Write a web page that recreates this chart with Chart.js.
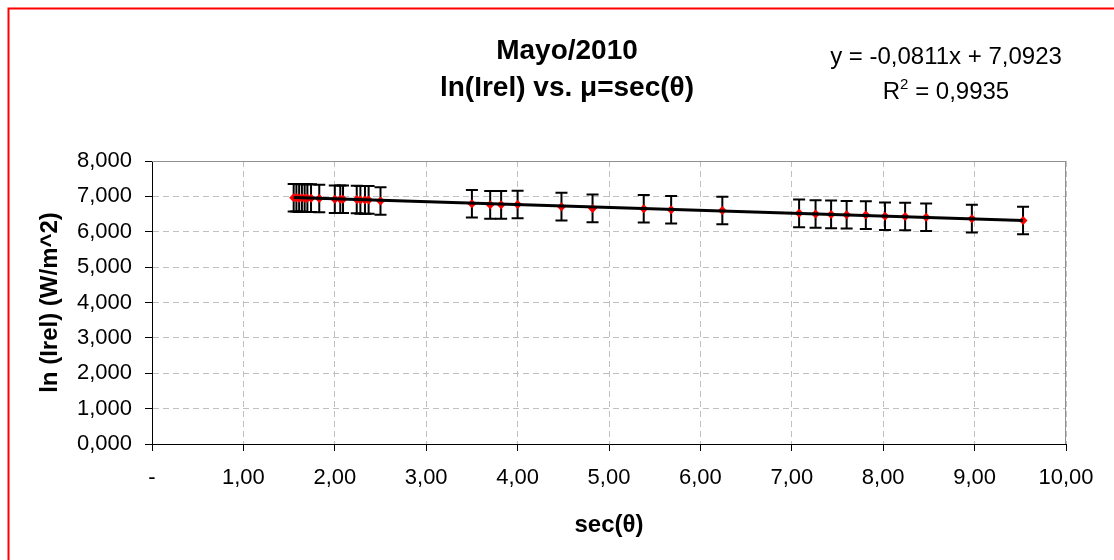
<!DOCTYPE html>
<html>
<head>
<meta charset="utf-8">
<script src="https://cdn.jsdelivr.net/npm/chart.js@4.4.0/dist/chart.umd.min.js"></script>
<style>
  html, body { margin: 0; padding: 0; background: #fff; }
  canvas { display: block; }
</style>
</head>
<body>
<canvas id="chart" width="1114" height="560"></canvas>
<script>
// sec(theta) and ln(Irel) readings, May 2010
const secTheta = [
  1.55, 1.58, 1.61, 1.64, 1.67, 1.70, 1.74, 1.83,
  2.00, 2.06, 2.09, 2.24, 2.28, 2.33, 2.37, 2.50,
  3.50, 3.70, 3.82, 4.00, 4.48, 4.82, 5.38, 5.68, 6.24,
  7.08, 7.26, 7.43, 7.60, 7.81, 8.02, 8.24, 8.47, 8.97, 9.53,
];
const lnIrel = [
  6.96, 6.96, 6.95, 6.96, 6.95, 6.95, 6.95, 6.94,
  6.92, 6.92, 6.92, 6.91, 6.90, 6.90, 6.90, 6.87,
  6.79, 6.76, 6.76, 6.77, 6.71, 6.66, 6.65, 6.62, 6.60,
  6.52, 6.50, 6.49, 6.48, 6.47, 6.44, 6.43, 6.41, 6.37, 6.32,
];
const errBar = 0.39;

// linear trendline shown on the chart
const slope = -0.0811;
const intercept = 7.0923;
const rSquared = 0.9935;

const xTickLabels = ["-", "1,00", "2,00", "3,00", "4,00", "5,00", "6,00", "7,00", "8,00", "9,00", "10,00"];
const yTickLabels = ["0,000", "1,000", "2,000", "3,000", "4,000", "5,000", "6,000", "7,000", "8,000"];

const FONT = "Liberation Sans, Arial, sans-serif";
const comma = (v, d) => v.toFixed(d).replace(".", ",");

const xMin = Math.min(...secTheta);
const xMax = Math.max(...secTheta);
const trend = [xMin, xMax].map((x) => ({ x: x, y: slope * x + intercept }));

const decorations = {
  id: "decorations",
  beforeDatasetsDraw(chart) {
    const { ctx, chartArea: a, scales } = chart;
    ctx.save();
    // plot area frame (top / right), axes are drawn by the scales
    ctx.strokeStyle = "#909090";
    ctx.lineWidth = 1;
    ctx.beginPath();
    ctx.moveTo(a.left, a.top + 0.5);
    ctx.lineTo(a.right - 0.5, a.top + 0.5);
    ctx.lineTo(a.right - 0.5, a.bottom);
    ctx.stroke();

    // error bars
    ctx.strokeStyle = "#000";
    ctx.lineWidth = 2;
    secTheta.forEach((v, i) => {
      const px = scales.x.getPixelForValue(v);
      const top = scales.y.getPixelForValue(lnIrel[i] + errBar);
      const bot = scales.y.getPixelForValue(lnIrel[i] - errBar);
      ctx.beginPath();
      ctx.moveTo(px, top);
      ctx.lineTo(px, bot);
      ctx.moveTo(px - 6, top);
      ctx.lineTo(px + 6, top);
      ctx.moveTo(px - 6, bot);
      ctx.lineTo(px + 6, bot);
      ctx.stroke();
    });
    ctx.restore();
  },
  afterDraw(chart) {
    const { ctx, chartArea: a } = chart;
    ctx.save();
    ctx.fillStyle = "#000";
    ctx.textBaseline = "alphabetic";
    ctx.textAlign = "center";

    // title
    ctx.font = "bold 28px " + FONT;
    ctx.fillText("Mayo/2010", 567, 59);
    ctx.fillText("ln(Irel) vs. \u03bc=sec(\u03b8)", 567, 96);

    // trendline equation
    ctx.font = "24px " + FONT;
    const eq = "y = " + comma(slope, 4) + "x + " + comma(intercept, 4);
    ctx.fillText(eq, 946, 64);
    const r1 = "R";
    const r2 = " = " + comma(rSquared, 4);
    ctx.font = "24px " + FONT;
    const w1 = ctx.measureText(r1).width;
    const w3 = ctx.measureText(r2).width;
    ctx.font = "15px " + FONT;
    const w2 = ctx.measureText("2").width;
    let sx = 946 - (w1 + w2 + w3) / 2;
    ctx.textAlign = "left";
    ctx.font = "24px " + FONT;
    ctx.fillText(r1, sx, 99);
    ctx.font = "15px " + FONT;
    ctx.fillText("2", sx + w1, 89);
    ctx.font = "24px " + FONT;
    ctx.fillText(r2, sx + w1 + w2, 99);

    // axis titles
    ctx.textAlign = "center";
    ctx.textBaseline = "middle";
    ctx.font = "bold 24px " + FONT;
    ctx.fillText("sec(\u03b8)", (a.left + a.right) / 2, 525);
    ctx.translate(50, (a.top + a.bottom) / 2);
    ctx.rotate(-Math.PI / 2);
    ctx.fillText("ln (Irel) (W/m^2)", 0, 0);
    ctx.restore();

    // red outer frame
    ctx.save();
    ctx.strokeStyle = "#ff0000";
    ctx.lineWidth = 2;
    ctx.beginPath();
    ctx.moveTo(8.5, chart.height);
    ctx.lineTo(8.5, 8.5);
    ctx.lineTo(chart.width, 8.5);
    ctx.stroke();
    ctx.restore();
  },
};

const canvaEl = document.getElementById("chart");

const chart = new Chart(canvaEl, {
  type: "scatter",
  data: {
    datasets: [
      {
        type: "line",
        label: "trend",
        data: trend,
        borderColor: "#000",
        borderWidth: 3,
        pointRadius: 0,
        fill: false,
        order: 0,
      },
      {
        label: "ln(Irel)",
        data: secTheta.map((x, i) => ({ x: x, y: lnIrel[i] })),
        pointStyle: "rectRot",
        pointRadius: 4.5,
        backgroundColor: "#ff0000",
        borderColor: "#ff0000",
        borderWidth: 0,
        order: 1,
      },
    ],
  },
  options: {
    responsive: false,
    animation: false,
    devicePixelRatio: 1,
    layout: { padding: { top: 161, right: 48, left: 0, bottom: 0 } },
    plugins: {
      legend: { display: false },
      tooltip: { enabled: false },
      title: { display: false },
    },
    scales: {
      x: {
        type: "linear",
        min: 0,
        max: 10,
        ticks: {
          stepSize: 1,
          padding: 14,
          color: "#000",
          maxRotation: 0,
          font: { family: FONT, size: 22 },
          callback: (v) => xTickLabels[Math.round(v)],
        },
        grid: { color: "#c0c0c0", tickColor: "#000", tickLength: 7 },
        border: { color: "#000", width: 1, dash: [6, 4] },
        afterFit: (s) => { s.height = 116; },
      },
      y: {
        type: "linear",
        min: 0,
        max: 8,
        ticks: {
          stepSize: 1,
          padding: 13,
          color: "#000",
          font: { family: FONT, size: 22 },
          callback: (v) => yTickLabels[Math.round(v)],
        },
        grid: { color: "#c0c0c0", tickColor: "#000", tickLength: 7 },
        border: { color: "#000", width: 1, dash: [6, 4] },
        afterFit: (s) => { s.width = 152; },
      },
    },
  },
  plugins: [decorations],
});
</script>
</body>
</html>
